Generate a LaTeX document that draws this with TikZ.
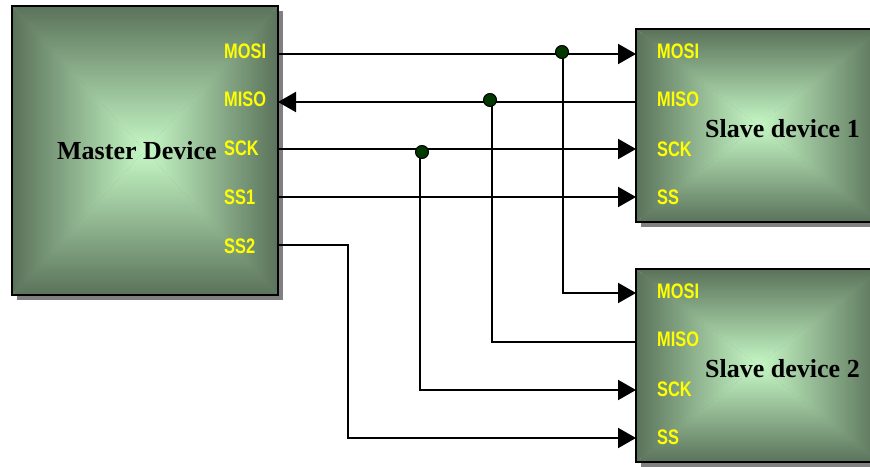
\documentclass[tikz,border=0pt]{standalone}
\usepackage{fontspec}
\setmainfont{Liberation Serif}
\newfontfamily\pinfont{Liberation Sans}
\usetikzlibrary{arrows.meta,shadows}
\definecolor{edgeg}{RGB}{90,114,90}
\definecolor{centerg}{RGB}{198,248,198}
\definecolor{shadowc}{RGB}{128,128,128}
\definecolor{dotg}{RGB}{0,56,0}
\definecolor{pinyellow}{RGB}{255,255,0}
\newcommand\pinlab[1]{\scalebox{0.78}[1]{#1}}
\tikzset{
  pyramid/.style={path picture={
    \path (path picture bounding box.north west) coordinate (pA)
          (path picture bounding box.north east) coordinate (pB)
          (path picture bounding box.south east) coordinate (pC)
          (path picture bounding box.south west) coordinate (pD)
          (path picture bounding box.center) coordinate (pO);
    \begin{scope}\clip (pA)--(pB)--(pO)--cycle;
      \shade[top color=edgeg,bottom color=centerg] (pA) rectangle (pB|-pO);\end{scope}
    \begin{scope}\clip (pD)--(pC)--(pO)--cycle;
      \shade[bottom color=edgeg,top color=centerg] (pD) rectangle (pC|-pO);\end{scope}
    \begin{scope}\clip (pA)--(pD)--(pO)--cycle;
      \shade[left color=edgeg,right color=centerg] (pA) rectangle (pO|-pD);\end{scope}
    \begin{scope}\clip (pB)--(pC)--(pO)--cycle;
      \shade[right color=edgeg,left color=centerg] (pB) rectangle (pO|-pC);\end{scope}
  }},
  devbox/.style={rectangle, draw=black, line width=2pt, inner sep=0pt, pyramid,
    general shadow={fill=shadowc, shadow xshift=5pt, shadow yshift=-5pt}},
  pin/.style={anchor=west, inner sep=0pt, text=pinyellow,
    font=\pinfont\bfseries\fontsize{21}{21}\selectfont},
  title/.style={anchor=base west, inner sep=0pt,
    font=\bfseries\fontsize{26}{26}\selectfont},
  sig/.style={line width=2pt, draw=black},
  tip/.style={-{Triangle[length=18pt,width=20pt]}},
  dot/.style={circle, fill=dotg, draw=black, line width=1pt, minimum size=13pt, inner sep=0pt}
}
\begin{document}
\begin{tikzpicture}[x=1pt,y=-1pt]
\useasboundingbox (0,0) rectangle (870,466);
% boxes
\node[devbox, minimum width=266pt, minimum height=289pt] (master) at (145,150.5) {};
\node[devbox, minimum width=244pt, minimum height=193pt] (slaveA) at (758,125.5) {};
\node[devbox, minimum width=244pt, minimum height=193pt] (slaveB) at (758,365.5) {};
% titles
\node[title] (tm) at (57,159) {Master Device};
\node[title] (tA) at (705,137) {Slave device 1};
\node[title] (tB) at (705,377) {Slave device 2};
% pin labels master
\node[pin] (lm1) at (224,51) {\pinlab{MOSI}};
\node[pin] (lm2) at (224,99) {\pinlab{MISO}};
\node[pin] (lm3) at (224,148) {\pinlab{SCK}};
\node[pin] (lm4) at (224,197) {\pinlab{SS1}};
\node[pin] (lm5) at (224,246) {\pinlab{SS2}};
% pin labels slave 1
\node[pin] (la1) at (657,51) {\pinlab{MOSI}};
\node[pin] (la2) at (657,99) {\pinlab{MISO}};
\node[pin] (la3) at (657,149) {\pinlab{SCK}};
\node[pin] (la4) at (657,197) {\pinlab{SS}};
% pin labels slave 2
\node[pin] (lb1) at (657,291) {\pinlab{MOSI}};
\node[pin] (lb2) at (657,339) {\pinlab{MISO}};
\node[pin] (lb3) at (657,389) {\pinlab{SCK}};
\node[pin] (lb4) at (657,437) {\pinlab{SS}};
% pin points
\coordinate (mMOSI) at (278,54);
\coordinate (mMISO) at (278,102);
\coordinate (mSCK)  at (278,149);
\coordinate (mSSa)  at (278,197);
\coordinate (mSSb)  at (278,245);
\coordinate (aMOSI) at (636,54);
\coordinate (aMISO) at (636,102);
\coordinate (aSCK)  at (636,149);
\coordinate (aSS)   at (636,197);
\coordinate (bMOSI) at (636,293);
\coordinate (bMISO) at (636,342);
\coordinate (bSCK)  at (636,390);
\coordinate (bSS)   at (636,438);
% junctions
\coordinate (jMOSI) at (563,54);
\coordinate (jMISO) at (492,102);
\coordinate (jSCK)  at (420,149);
\coordinate (kSS)   at (348,245);
% connectors
\draw[sig,tip] (mMOSI) -- (aMOSI);
\draw[sig,tip] (aMISO) -- (mMISO);
\draw[sig,tip] (mSCK) -- (aSCK);
\draw[sig,tip] (mSSa) -- (aSS);
\draw[sig,tip] (jMOSI) |- (bMOSI);
\draw[sig] (jMISO) |- (bMISO);
\draw[sig,tip] (jSCK) |- (bSCK);
\draw[sig,tip] (mSSb) -- (kSS) |- (bSS);
% dots
\node[dot] (d1) at (562,52) {};
\node[dot] (d2) at (490,100) {};
\node[dot] (d3) at (422,152) {};
\end{tikzpicture}
\end{document}
